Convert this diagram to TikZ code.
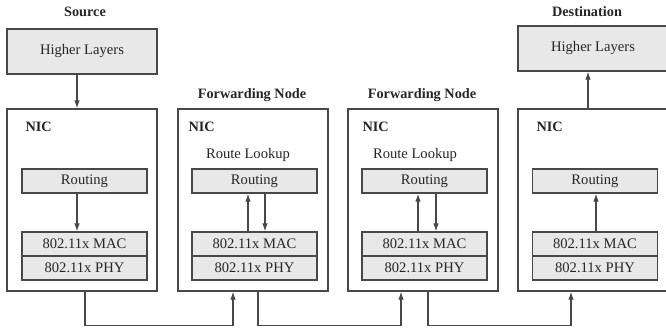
\documentclass[tikz,border=0pt]{standalone}
\usepackage{fontspec}
\setmainfont{Liberation Serif}
\usetikzlibrary{arrows.meta}
\definecolor{boxfill}{HTML}{E8E8E8}
\definecolor{linecol}{HTML}{484848}
\begin{document}
\begin{tikzpicture}[x=1pt,y=-1pt,
  every node/.style={font=\fontsize{14.6}{16}\selectfont, text=black!85},
  graybox/.style={draw=linecol, fill=boxfill, line width=1.2pt, inner sep=0pt},
  nicbox/.style={draw=linecol, fill=white, line width=1.2pt, inner sep=0pt, minimum width=150pt, minimum height=182pt},
  layer/.style={graybox, minimum width=125pt, minimum height=24pt},
  hlbox/.style={graybox, minimum width=150pt, minimum height=45pt},
  title/.style={font=\fontsize{14.3}{15}\selectfont\bfseries},
  arr/.style={draw=linecol, line width=1.2pt, -{Latex[length=8pt,width=5.5pt]}},
  wire/.style={draw=linecol, line width=1.2pt}]
\useasboundingbox (0,0) rectangle (666,330);

% Source
\node[title] (tsrc) at (85,12) {Source};
\node[hlbox] (hl1) at (82,51.5) {Higher Layers};
\node[nicbox] (nic1) at (82,200) {};
\node[title, anchor=west] (n1) at (22,127) {NIC};
\node[layer] (rt1) at (84.5,181) {Routing};
\node[layer] (mac1) at (84.5,244) {802.11x MAC};
\node[layer] (phy1) at (84.5,268) {802.11x PHY};

% Forwarding node 1
\node[title] (tf1) at (252,95) {Forwarding Node};
\node[nicbox] (nic2) at (253,200) {};
\node[title, anchor=west] (n2) at (185,127) {NIC};
\node (rl2) at (248,155) {Route Lookup};
\node[layer] (rt2) at (254.5,181) {Routing};
\node[layer] (mac2) at (254.5,244) {802.11x MAC};
\node[layer] (phy2) at (254.5,268) {802.11x PHY};

% Forwarding node 2
\node[title] (tf2) at (422,95) {Forwarding Node};
\node[nicbox] (nic3) at (423,200) {};
\node[title, anchor=west] (n3) at (359,127) {NIC};
\node (rl3) at (415,155) {Route Lookup};
\node[layer] (rt3) at (424.5,181) {Routing};
\node[layer] (mac3) at (424.5,244) {802.11x MAC};
\node[layer] (phy3) at (424.5,268) {802.11x PHY};

% Destination
\node[title] (tdst) at (587,12) {Destination};
\node[hlbox] (hl4) at (593,48.5) {Higher Layers};
\node[nicbox] (nic4) at (593,200) {};
\node[title, anchor=west] (n4) at (533,127) {NIC};
\node[layer] (rt4) at (595,181) {Routing};
\node[layer] (mac4) at (595,244) {802.11x MAC};
\node[layer] (phy4) at (595,268) {802.11x PHY};

% vertical arrows
\draw[arr] ([xshift=-5]hl1.south) -- ([xshift=-5]nic1.north);
\draw[arr] ([xshift=-7.5]rt1.south) -- ([xshift=-7.5]mac1.north);
\draw[arr] ([xshift=-6.5]mac2.north) -- ([xshift=-6.5]rt2.south);
\draw[arr] ([xshift=10.5]rt2.south) -- ([xshift=10.5]mac2.north);
\draw[arr] ([xshift=-6.5]mac3.north) -- ([xshift=-6.5]rt3.south);
\draw[arr] ([xshift=11.5]rt3.south) -- ([xshift=11.5]mac3.north);
\draw[arr] ([xshift=1]mac4.north) -- ([xshift=1]rt4.south);
\draw[arr] ([xshift=-5]nic4.north) -- ([xshift=-5]hl4.south);

% bottom links
\draw[arr] ([xshift=3]nic1.south) -- ++(0,34) -| ([xshift=-20]nic2.south);
\draw[arr] ([xshift=5]nic2.south) -- ++(0,34) -| ([xshift=-22]nic3.south);
\draw[arr] ([xshift=5]nic3.south) -- ++(0,34) -| ([xshift=-22]nic4.south);
\end{tikzpicture}
\end{document}
